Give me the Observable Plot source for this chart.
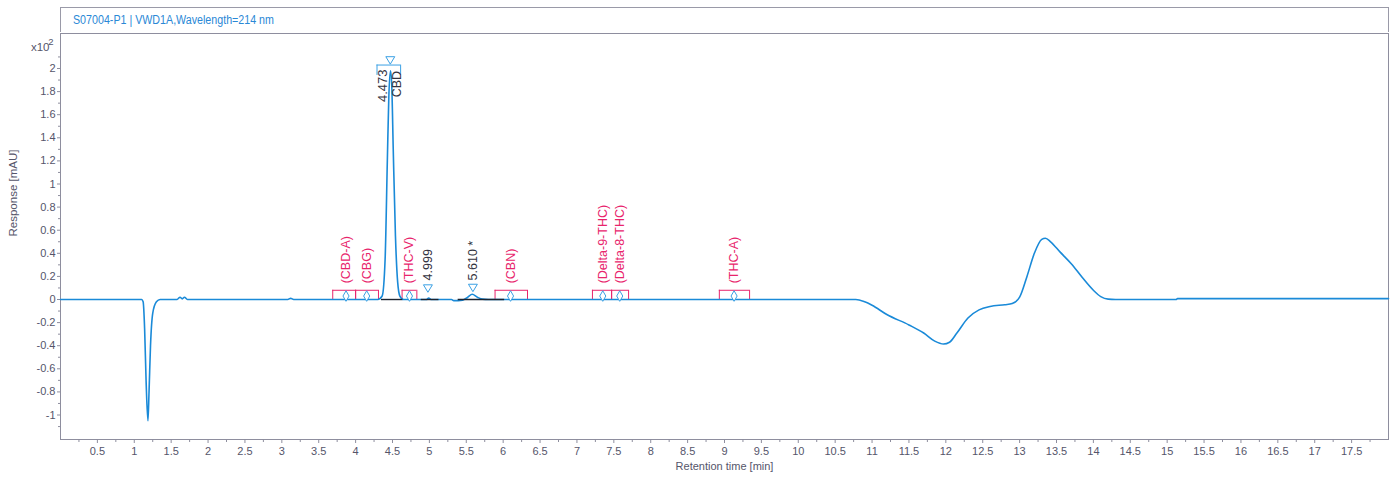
<!DOCTYPE html>
<html>
<head>
<meta charset="utf-8">
<script src="https://cdn.jsdelivr.net/npm/d3@7"></script>
<script src="https://cdn.jsdelivr.net/npm/@observablehq/plot@0.6"></script>
<style>
  html, body { margin: 0; padding: 0; background: #fff; }
  #wrap { position: relative; width: 1396px; height: 478px; overflow: hidden; font-family: "Liberation Sans", Arial, sans-serif; }
  #hdr { position: absolute; left: 60px; top: 7px; width: 1327px; height: 24px; border: 1px solid #9a9aa8; }
  #hdr span { position: absolute; left: 12px; top: 5px; font-size: 12px; color: #2a88d6; white-space: nowrap; transform: scaleX(0.89); transform-origin: left center; }
  #chart { position: absolute; left: 0; top: 32px; }
</style>
</head>
<body>
<div id="wrap">
  <div id="hdr"><span id="hdrText"></span></div>
  <div id="chart"></div>
</div>
<script>
// ---- data ----
const headerText = "S07004-P1 | VWD1A,Wavelength=214 nm";
const xLabel = "Retention time [min]";
const yLabel = "Response [mAU]";

// chromatogram trace (time in min, response in x10^2 mAU)
const traceTime = [0, 1.10, 1.12, 1.14, 1.16, 1.185, 1.20, 1.22, 1.25, 1.30, 1.35,
  1.58, 1.62, 1.65, 1.68, 1.72, 3.08, 3.12, 3.16,
  4.30, 4.36, 4.40, 4.43, 4.45, 4.473, 4.49, 4.51, 4.54, 4.57, 4.60, 4.65,
  4.96, 4.99, 5.03, 5.30, 5.33, 5.45, 5.52, 5.58, 5.65, 5.72, 5.80,
  10.78, 10.9, 11.0, 11.2, 11.5, 11.7, 11.85, 11.97, 12.05, 12.15, 12.3, 12.45, 12.6, 12.8, 12.9,
  13.0, 13.1, 13.2, 13.3, 13.35, 13.42, 13.55, 13.7, 13.85, 14.0, 14.1, 14.2, 14.3,
  15.12, 15.14, 18.0];
const traceValue = [0, 0, -0.02, -0.25, -0.70, -1.05, -0.80, -0.40, -0.12, -0.02, 0,
  0, 0.02, 0.005, 0.02, 0, 0, 0.01, 0,
  0, 0.03, 0.35, 1.2, 1.75, 1.98, 1.85, 1.3, 0.55, 0.15, 0.03, 0,
  0, 0.012, 0, 0, -0.01, -0.005, 0.02, 0.045, 0.02, 0.003, 0,
  0, -0.02, -0.05, -0.13, -0.22, -0.29, -0.36, -0.385, -0.37, -0.29, -0.16, -0.09, -0.06, -0.045, -0.035,
  0.02, 0.2, 0.40, 0.52, 0.53, 0.50, 0.41, 0.31, 0.19, 0.08, 0.025, 0.003, 0,
  0, 0.008, 0.008];

// identified peaks
const peakRT = [4.473, 4.999, 5.610];
const peakMarkX = [4.47, 4.98, 5.59];
const peakMarkY = [2.07, 0.095, 0.10];
const peakRTLabel = ["4.473", "4.999", "5.610 *"];
const peakName = ["CBD", "", ""];
const baseStart = [4.35, 4.89, 5.39];
const baseEnd = [4.64, 5.13, 6.02];

// expected-compound windows (not found)
const compName = ["CBD-A", "CBG", "THC-V", "CBN", "Delta-9-THC", "Delta-8-THC", "THC-A"];
const compRT = [3.87, 4.15, 4.73, 6.10, 7.35, 7.58, 9.13];
const compStart = [3.69, 4.00, 4.63, 5.89, 7.21, 7.47, 8.93];
const compEnd = [4.00, 4.31, 4.83, 6.33, 7.47, 7.70, 9.34];

// CBD window bracket
const cbdWindow = [4.29, 4.61];

// ticks
const xTicks = [0.5,1,1.5,2,2.5,3,3.5,4,4.5,5,5.5,6,6.5,7,7.5,8,8.5,9,9.5,10,10.5,11,11.5,12,12.5,13,13.5,14,14.5,15,15.5,16,16.5,17,17.5];
const xMinor = [0.25,0.75,1.25,1.75,2.25,2.75,3.25,3.75,4.25,4.75,5.25,5.75,6.25,6.75,7.25,7.75,8.25,8.75,9.25,9.75,10.25,10.75,11.25,11.75,12.25,12.75,13.25,13.75,14.25,14.75,15.25,15.75,16.25,16.75,17.25,17.75];
const yTicks = [-1,-0.8,-0.6,-0.4,-0.2,0,0.2,0.4,0.6,0.8,1,1.2,1.4,1.6,1.8,2];
const yMinor = [-1.1,-0.9,-0.7,-0.5,-0.3,-0.1,0.1,0.3,0.5,0.7,0.9,1.1,1.3,1.5,1.7,1.9,2.1];

// ---- build ----
const trace = traceTime.map((t, i) => ({t, v: traceValue[i]}));
const peaks = peakRT.map((rt, i) => ({rt, mx: peakMarkX[i], my: peakMarkY[i], label: peakRTLabel[i], name: peakName[i], b0: baseStart[i], b1: baseEnd[i]}));
const comps = compName.map((n, i) => ({name: "(" + n + ")", rt: compRT[i], s: compStart[i], e: compEnd[i]}));

const BLUE = "#1a8ad8";
const LBLUE = "#3aa0e4";
const PINK = "#e8246c";
const GRAY = "#55556a";
const AX = "#8e8e9e";

const triDown = {
  draw(ctx, size) {
    const h = Math.sqrt(size) * 1.0;
    ctx.moveTo(-h * 0.6, -h * 0.5);
    ctx.lineTo(h * 0.6, -h * 0.5);
    ctx.lineTo(0, h * 0.5);
    ctx.closePath();
  }
};

document.getElementById("hdrText").textContent = headerText;

const chart = Plot.plot({
  width: 1396,
  height: 446,
  marginLeft: 60,
  marginRight: 8,
  marginTop: 1,
  marginBottom: 39,
  x: {domain: [0, 18]},
  y: {domain: [-1.212, 2.303]},
  style: {fontFamily: "'Liberation Sans',Arial,sans-serif", fontSize: "11px", background: "white", color: GRAY},
  marks: [
    Plot.frame({stroke: AX}),
    Plot.axisX({ticks: xTicks, tickSize: 4, tickPadding: 4, stroke: AX, fill: GRAY, tickFormat: d => String(d), label: null}),
    Plot.axisX({ticks: xMinor, tickSize: 3, stroke: AX, tickFormat: () => "", label: null}),
    Plot.axisY({ticks: yTicks, tickSize: 3, tickPadding: 2, stroke: AX, fill: GRAY, tickFormat: d => String(+d.toFixed(1)), label: null}),
    Plot.axisY({ticks: yMinor, tickSize: 2, stroke: AX, tickFormat: () => "", label: null}),
    Plot.text([xLabel], {frameAnchor: "bottom", dy: 30, text: d => d, fill: GRAY, fontSize: 11}),
    Plot.text([yLabel], {frameAnchor: "left", dx: -47, rotate: -90, text: d => d, fill: GRAY, fontSize: 11.5}),
    Plot.text(["x10"], {frameAnchor: "top-left", dx: -11, dy: 9, textAnchor: "end", text: d => d, fill: GRAY, fontSize: 11.5}),
    Plot.text(["2"], {frameAnchor: "top-left", dx: -7, dy: 5, textAnchor: "end", text: d => d, fill: GRAY, fontSize: 9.5}),

    // expected windows (pink)
    Plot.ruleY(comps, {y: 0.08, x1: "s", x2: "e", stroke: PINK, strokeWidth: 1}),
    Plot.ruleX(comps, {x: "s", y1: 0, y2: 0.08, stroke: PINK, strokeWidth: 1}),
    Plot.ruleX(comps, {x: "e", y1: 0, y2: 0.08, stroke: PINK, strokeWidth: 1}),

    // trace
    Plot.line(trace, {x: "t", y: "v", stroke: BLUE, strokeWidth: 1.6, curve: "monotone-x"}),

    // integration baselines
    Plot.ruleY(peaks, {y: 0, x1: "b0", x2: "b1", stroke: "#1c2430", strokeWidth: 1.4}),

    // diamonds + compound labels
    Plot.dot(comps, {x: "rt", y: 0.03, symbol: "diamond", r: 3.2, stroke: LBLUE, fill: "white", strokeWidth: 1}),
    Plot.text(comps, {x: "rt", y: 0.14, text: "name", rotate: -90, textAnchor: "start", fill: PINK, fontSize: 12.5}),

    // CBD window (blue)
    Plot.ruleY([cbdWindow], {y: 2.03, x1: d => d[0], x2: d => d[1], stroke: LBLUE, strokeWidth: 1}),
    Plot.ruleX(cbdWindow, {x: d => d, y1: 1.94, y2: 2.03, stroke: LBLUE, strokeWidth: 1}),

    // peak markers + labels
    Plot.dot(peaks, {x: "mx", y: "my", symbol: triDown, r: 4.2, stroke: LBLUE, fill: "white", strokeWidth: 1}),
    Plot.text(peaks.filter(p => p.name), {x: d => d.rt - 0.10, y: 1.71, text: "label", rotate: -90, textAnchor: "start", fill: "#333340", fontSize: 13}),
    Plot.text(peaks.filter(p => p.name), {x: d => d.rt + 0.09, y: 1.75, text: "name", rotate: -90, textAnchor: "start", fill: "#333340", fontSize: 12.5}),
    Plot.text(peaks.filter(p => !p.name), {x: "mx", y: 0.165, text: "label", rotate: -90, textAnchor: "start", fill: "#333340", fontSize: 12.5})
  ]
});
document.getElementById("chart").appendChild(chart);
</script>
</body>
</html>
